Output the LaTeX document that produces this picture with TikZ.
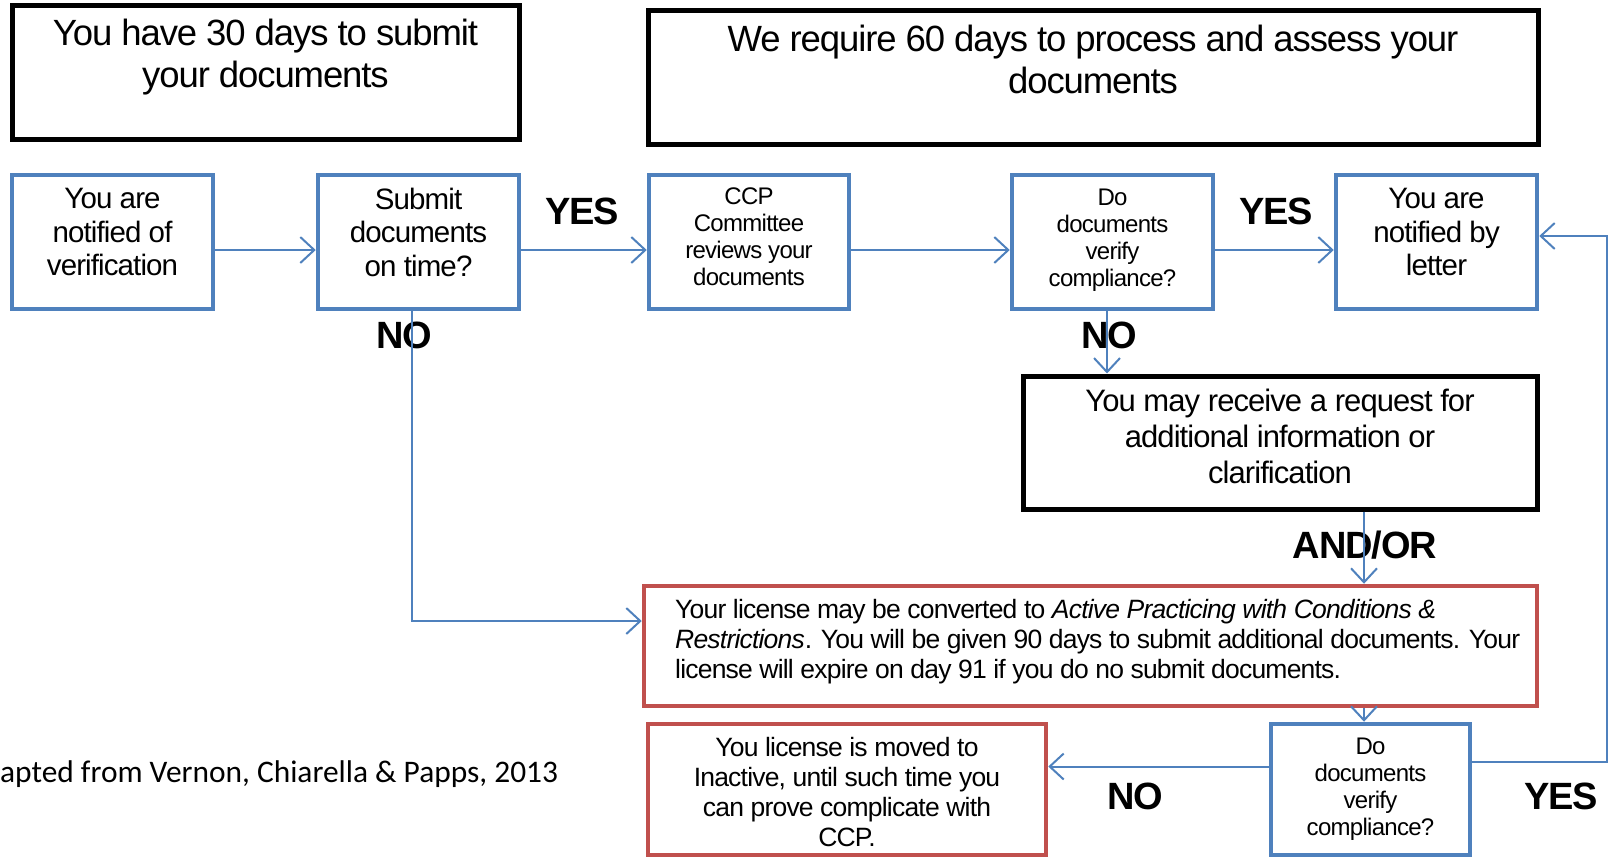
\documentclass[tikz,border=0pt]{standalone}
\usepackage{fontspec}
\setmainfont{Liberation Sans}[LetterSpace=-3]
\newfontfamily\notefont{Carlito}
\usetikzlibrary{arrows.meta}
\definecolor{flowblue}{HTML}{4F81BD}
\definecolor{flowred}{HTML}{C0504D}
\newcommand\fsz[2]{\fontsize{#1pt}{#2pt}\selectfont}

\begin{document}
\begin{tikzpicture}[x=1pt,y=-1pt,
  blackbox/.style={draw=black, line width=5pt, inner sep=0pt},
  bluebox/.style={draw=flowblue, line width=4.5pt, inner sep=0pt},
  redbox/.style={draw=flowred, line width=4.5pt, inner sep=0pt},
  boxtext/.style={align=center, inner sep=0pt},
  bigtext/.style={boxtext, font=\fsz{36.5}{41.5}},
  midtext/.style={boxtext, font=\fsz{29.5}{33.5}},
  smalltext/.style={boxtext, font=\fsz{24}{27}},
  flowtag/.style={font=\bfseries\fsz{38}{40}, inner sep=0pt},
  flowlink/.style={draw=flowblue, line width=2pt,
    -{Straight Barb[length=14pt,width=26pt,line width=2pt]}},
]
\useasboundingbox (0,0) rectangle (1610,857);

% time frames
\node (frame30) [blackbox, minimum width=507pt, minimum height=134pt] at (265.5,72) {};
\node (frame30t) [bigtext, anchor=north] at (265.5,19) {You have 30 days to submit\\your documents};
\node (frame60) [blackbox, minimum width=890pt, minimum height=134pt] at (1093,77) {};
\node (frame60t) [bigtext, anchor=north] at (1093,25) {We require 60 days to process and assess your\\documents};

% main row
\node (n1) [bluebox, minimum width=201pt, minimum height=134pt] at (112.5,242) {};
\node (n1t) [midtext] at ([yshift=10pt]n1.center) {You are\\notified of\\verification};
\node (n2) [bluebox, minimum width=201pt, minimum height=134pt] at (418.5,242) {};
\node (n2t) [midtext] at ([yshift=10pt]n2.center) {Submit\\documents\\on time?};
\node (n3) [bluebox, minimum width=200pt, minimum height=134pt] at (749,242) {};
\node (n3t) [smalltext] at ([yshift=5pt]n3.center) {CCP\\Committee\\reviews your\\documents};
\node (n4) [bluebox, minimum width=201pt, minimum height=134pt] at (1112.5,242) {};
\node (n4t) [smalltext] at ([yshift=2pt]n4.center) {Do\\documents\\verify\\compliance?};
\node (n5) [bluebox, minimum width=201pt, minimum height=134pt] at (1436.5,242) {};
\node (n5t) [midtext] at ([yshift=10pt]n5.center) {You are\\notified by\\letter};

% further information request
\node (req) [blackbox, minimum width=514pt, minimum height=133pt] at (1280,442.5) {};
\node (reqt) [boxtext, font=\fsz{31}{36}] at ([yshift=6pt]req.center)
  {You may receive a request for\\additional information or\\clarification};

% conditional licence
\node (r1) [redbox, minimum width=893pt, minimum height=120pt] at (1090.5,646) {};
\node (r1t) [anchor=north west, inner sep=0pt, align=left, font=\fsz{26.5}{30}] at (675,599)
  {Your license may be converted to \textit{Active Practicing with Conditions \&}\\
   \textit{Restrictions}. You will be given 90 days to submit additional documents. Your\\
   license will expire on day 91 if you do no submit documents.};

% second check and outcome
\node (r2) [redbox, minimum width=398pt, minimum height=131pt] at (847,789.5) {};
\node (r2t) [boxtext, font=\fsz{26.5}{30}] at ([yshift=-3pt]r2.center)
  {You license is moved to\\Inactive, until such time you\\can prove complicate with\\CCP.};
\node (n6) [bluebox, minimum width=199pt, minimum height=131pt] at (1370.5,789.5) {};
\node (n6t) [smalltext] at (n6.center) {Do\\documents\\verify\\compliance?};

% decision labels
\node (yes1) [flowtag] at (582,211) {YES};
\node (yes2) [flowtag] at (1276,211) {YES};
\node (no1)  [flowtag] at (404,335) {NO};
\node (no2)  [flowtag] at (1109,335) {NO};
\node (andor)[flowtag] at (1365,545) {AND/OR};
\node (no3)  [flowtag] at (1135,796) {NO};
\node (yes3) [flowtag] at (1561,796) {YES};

% source note
\node (src) [anchor=base west, inner sep=0pt, font=\notefont\fsz{31.4}{36}] at (0,782)
  {apted from Vernon, Chiarella \& Papps, 2013};

% connectors
\draw[flowlink] ([yshift=-8pt]n1.east) -- ([yshift=-8pt]n2.west);
\draw[flowlink] ([yshift=-8pt]n2.east) -- ([yshift=-8pt]n3.west);
\draw[flowlink] ([yshift=-8pt]n3.east) -- ([yshift=-8pt]n4.west);
\draw[flowlink] ([yshift=-8pt]n4.east) -- ([yshift=-8pt]n5.west);
\draw[flowlink] ([xshift=-6.5pt]n2.south) |- ([yshift=25pt]r1.west);
\draw[flowlink] ([xshift=-5.5pt]n4.south) -- ([xshift=-5.5pt]n4.south |- req.north);
\draw[flowlink] ([xshift=84pt]req.south) -- ([xshift=84pt]req.south |- r1.north);
\draw[flowlink] ([xshift=273.5pt]r1.south) -- ([xshift=273.5pt]r1.south |- n6.north);
\draw[flowlink] ([yshift=23pt]n6.west) -- ([yshift=23pt]n6.west -| r2.east);
\coordinate (loop) at (1607,236);
\draw[flowlink] ([yshift=27.5pt]n6.east) -| (loop) -- (loop -| n5.east);
\end{tikzpicture}
\end{document}
